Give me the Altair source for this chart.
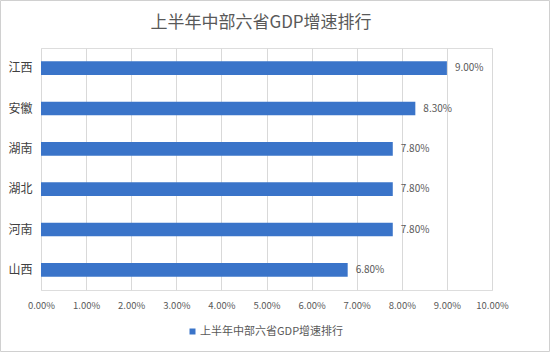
import altair as alt
import pandas as pd

provinces = ["江西", "安徽", "湖南", "湖北", "河南", "山西"]
growth = [9.0, 8.3, 7.8, 7.8, 7.8, 6.8]
series_name = "上半年中部六省GDP增速排行"
chart_title = "上半年中部六省GDP增速排行"
x_ticks = [0, 1, 2, 3, 4, 5, 6, 7, 8, 9, 10]

df = pd.DataFrame({"province": provinces, "growth": growth, "series": [series_name] * len(provinces)})

FONT = "Noto Sans CJK SC"
GRAY = "#595959"
BLUE = "#3A74C9"

base = alt.Chart(df)

bars = base.mark_bar(color=BLUE).encode(
    y=alt.Y("province:N", sort=provinces, title=None,
            scale=alt.Scale(paddingInner=0.66, paddingOuter=0.33),
            axis=alt.Axis(labelFont=FONT, labelFontSize=12, labelColor="#404040",
                          ticks=False, domain=False, labelPadding=9, grid=False)),
    x=alt.X("growth:Q", title=None,
            scale=alt.Scale(domain=[0, 10], nice=False),
            axis=alt.Axis(values=x_ticks, labelExpr="format(datum.value/100, '.2%')",
                          labelFont=FONT, labelFontSize=9.5, labelColor=GRAY,
                          labelOverlap=False, labelFlush=False,
                          ticks=False, domain=False, grid=True, gridColor="#d9d9d9",
                          labelPadding=10)),
    color=alt.Color("series:N", title=None,
                    scale=alt.Scale(range=[BLUE]),
                    legend=alt.Legend(orient="none", legendX=146, legendY=278,
                                      symbolType="square", symbolSize=36,
                                      labelFont=FONT, labelFontSize=11, labelColor=GRAY,
                                      symbolStrokeWidth=0, labelOffset=2)),
)

labels = base.mark_text(align="left", baseline="middle", dx=8, font=FONT,
                        fontSize=10, color=GRAY).encode(
    y=alt.Y("province:N", sort=provinces),
    x="growth:Q",
    text=alt.Text("label:N"),
).transform_calculate(label="format(datum.growth/100, '.2%')")

border = alt.Chart(pd.DataFrame({"a": [0]})).mark_rect(
    fillOpacity=0, stroke="#d0d0d0", strokeWidth=1
).encode(
    x=alt.value(-40.5), x2=alt.value(508.5), y=alt.value(-47.5), y2=alt.value(303.5)
)

title = alt.Chart(pd.DataFrame({"t": [chart_title]})).mark_text(
    font=FONT, fontSize=17, color=GRAY, align="center", baseline="middle"
).encode(
    text="t:N", x=alt.value(220), y=alt.value(-25)
)

chart = alt.layer(border, bars, labels, title).properties(
    width=451, height=242,
    padding={"left": 41, "top": 48, "right": 58, "bottom": 62},
    autosize=alt.AutoSizeParams(type="none"),
).configure_view(stroke=None).configure(background="white")

chart.save("out.html", embed_options={"renderer": "svg", "actions": False})
